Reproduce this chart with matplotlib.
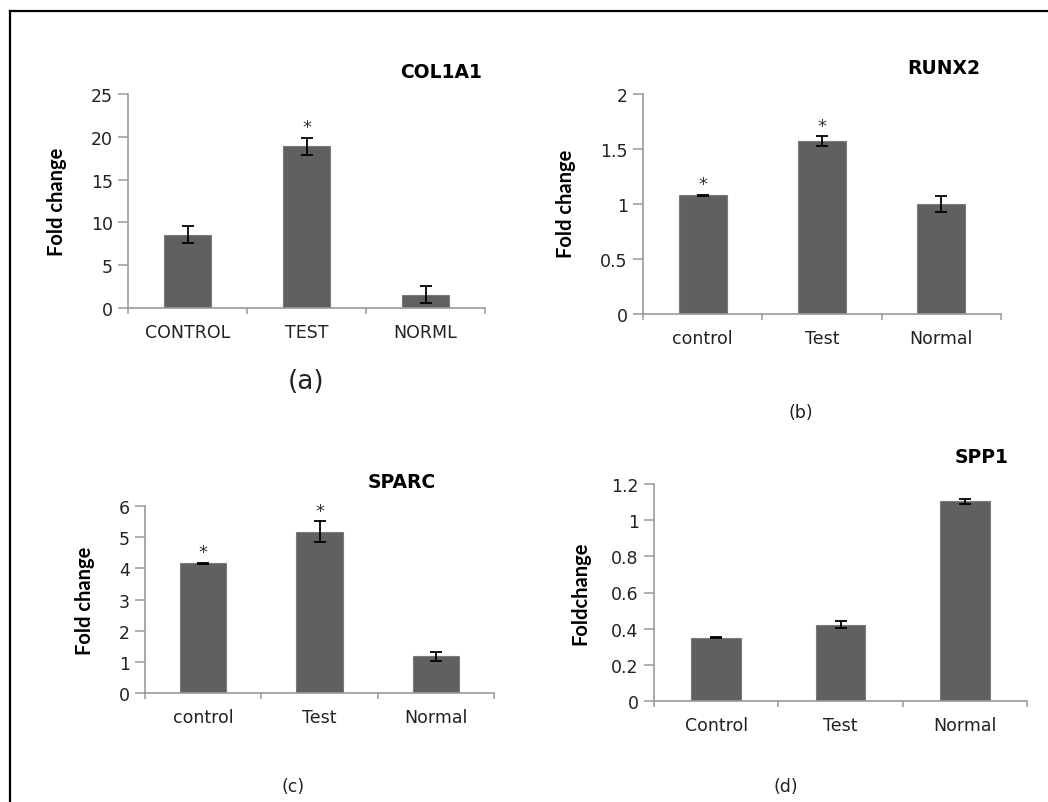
import numpy as np
import matplotlib
matplotlib.use("Agg")
import matplotlib.pyplot as plt
from matplotlib.lines import Line2D

W, H = 1048, 803

# data
labels_a = ["CONTROL", "TEST", "NORML"]
col1a1 = [8.55, 18.9, 1.55]
col1a1_err = [1.0, 1.0, 1.0]
col1a1_sig = [False, True, False]

labels_b = ["control", "Test", "Normal"]
runx2 = [1.08, 1.57, 1.0]
runx2_err = [0.005, 0.045, 0.07]
runx2_sig = [True, True, False]

labels_c = ["control", "Test", "Normal"]
sparc = [4.16, 5.18, 1.18]
sparc_err = [0.02, 0.33, 0.15]
sparc_sig = [True, True, False]

labels_d = ["Control", "Test", "Normal"]
spp1 = [0.35, 0.423, 1.105]
spp1_err = [0.004, 0.02, 0.014]
spp1_sig = [False, False, False]

BAR = "#606060"
AXC = "#9a9a9a"
NARROW = ["Lato", "DejaVu Sans"]

fig = plt.figure(figsize=(W / 100, H / 100), dpi=100)


def px_axes(x0, y0, x1, y1):
    return fig.add_axes([x0 / W, 1 - y1 / H, (x1 - x0) / W, (y1 - y0) / H])


def panel(box, labels, vals, errs, sig, ymax, ystep, fmt, title, title_xy,
          ylab, ylab_xy, tag, tag_xy, tag_size):
    ax = px_axes(*box)
    x = np.arange(len(vals))
    ax.bar(x, vals, width=0.4, color=BAR, edgecolor="#7a7a7a", linewidth=0.8, zorder=2)
    ax.errorbar(x, vals, yerr=errs, fmt="none", ecolor="black", elinewidth=1.3,
                capsize=4.5, capthick=1.3, zorder=3)
    for i, s in enumerate(sig):
        if s:
            ax.annotate("*", xy=(i, vals[i] + errs[i]), xytext=(0, 1),
                        textcoords="offset points", ha="center", va="bottom",
                        fontsize=13, color="#333333")
    ax.set_xlim(-0.5, len(vals) - 0.5)
    ax.set_ylim(0, ymax)
    ticks = np.arange(0, ymax + ystep / 2, ystep)
    ax.set_yticks(ticks)
    ax.set_yticklabels([fmt(t) for t in ticks])
    ax.set_xticks(x)
    ax.set_xticklabels(labels)
    ax.set_xticks(np.arange(-0.5, len(vals)), minor=True)
    ax.tick_params(axis="x", which="major", length=0, pad=11, labelsize=12.5, colors="#222222")
    ax.tick_params(axis="x", which="minor", length=4, width=1.1, color=AXC, direction="out")
    ax.tick_params(axis="y", length=7, width=1.1, color=AXC, labelsize=12.5,
                   labelcolor="#222222", pad=4)
    for s in ["top", "right"]:
        ax.spines[s].set_visible(False)
    for s in ["left", "bottom"]:
        ax.spines[s].set_color(AXC)
        ax.spines[s].set_linewidth(1.2)
    fig.text(title_xy[0] / W, 1 - title_xy[1] / H, title, ha="center", va="center",
             fontsize=13.5, fontweight="bold")
    fig.text(ylab_xy[0] / W, 1 - ylab_xy[1] / H, ylab, ha="center", va="center",
             rotation=90, fontsize=14.5, fontweight="bold", family=NARROW)
    fig.text(tag_xy[0] / W, 1 - tag_xy[1] / H, tag, ha="center", va="center",
             fontsize=tag_size, color="#222222")
    return ax


def intfmt(t):
    return "%d" % t


def gfmt(t):
    return "%g" % round(t, 2)


panel((128, 95, 485, 309), labels_a, col1a1, col1a1_err, col1a1_sig, 25, 5, intfmt,
      "COL1A1", (441, 73), "Fold change", (57, 202), "(a)", (306, 382), 19)
panel((643, 95, 1001, 315), labels_b, runx2, runx2_err, runx2_sig, 2, 0.5, gfmt,
      "RUNX2", (944, 68), "Fold change", (566, 204), "(b)", (801, 413), 12.5)
panel((145, 507, 494, 694), labels_c, sparc, sparc_err, sparc_sig, 6, 1, intfmt,
      "SPARC", (402, 483), "Fold change", (85, 601), "(c)", (293, 787), 12.5)
panel((654, 485, 1027, 702), labels_d, spp1, spp1_err, spp1_sig, 1.2, 0.2, gfmt,
      "SPP1", (982, 458), "Foldchange", (580, 593), "(d)", (786, 787), 12.5)

# outer frame (cut by the image edge at right and bottom)
fx, fy = 10 / W, 1 - 12 / H
fig.add_artist(Line2D([fx, 1.0], [fy, fy], color="black", linewidth=1.6))
fig.add_artist(Line2D([fx, fx], [fy, 0.0], color="black", linewidth=1.6))

fig.savefig("out.png", dpi=100)
